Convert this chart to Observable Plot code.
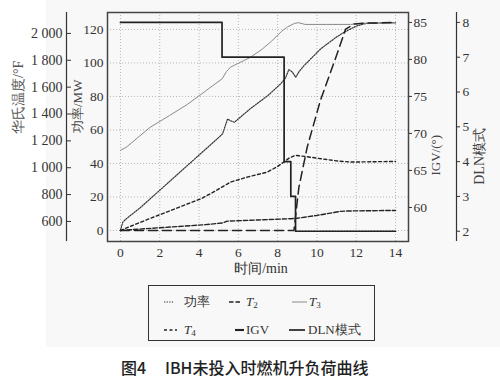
<!DOCTYPE html>
<html><head><meta charset="utf-8">
<script src="https://cdn.jsdelivr.net/npm/d3@7"></script>
<script src="https://cdn.jsdelivr.net/npm/@observablehq/plot@0.6"></script>
<style>
body{margin:0;background:#fff;}
#wrap{position:relative;width:500px;height:379px;overflow:hidden;font-family:"Liberation Serif","DejaVu Serif",serif;color:#333;}
#bg{position:absolute;left:46px;top:0;width:454px;height:347px;background:#f8f8f8;}
#chart{position:absolute;left:0;top:0;}
#chart svg, #chart svg text{font-family:"Liberation Serif","DejaVu Serif",serif !important;}
#legend{position:absolute;left:148px;top:285px;width:227px;height:56px;border:1px solid #333;box-sizing:border-box;}
.item{position:absolute;font-size:13px;line-height:14px;white-space:nowrap;color:#333;}
.item svg{position:absolute;top:0;}
sub{font-size:9px;vertical-align:-2px;}
#caption{position:absolute;top:355px;left:121px;font-family:"Noto Sans CJK SC","Noto Sans",sans-serif;font-size:16px;font-weight:500;color:#222;white-space:nowrap;}
</style></head><body>
<div id="wrap"><div id="bg"></div><div id="chart"></div><div id="legend"></div>
<div id="caption"><span>图4</span><span style="position:absolute;left:44px;">IBH未投入时燃机升负荷曲线</span></div></div>
<script>
// ---- data ----
const seriesNames = ["功率","T2","T3","T4","IGV","DLN模式"];
const xTicks = [0,2,4,6,8,10,12,14];
const mwTicks = [0,20,40,60,80,100,120];
const tempTicks = [600,800,1000,1200,1400,1600,1800,2000];
const igvTicks = [60,65,70,75,80,85];
const dlnTicks = [2,3,4,5,6,7,8];

const powerT  = [0,0.12,0.3,1,2,3,4,5,5.2,5.32,5.45,5.6,5.8,6.6,7.5,8.15,8.4,8.57,8.75,8.92,9.1,9.35,10.2,11,11.4,12,12.5,13,14];
const powerMW = [0,5,7,13.5,24,34.5,45,55.5,57.7,62,66.5,65.5,64.6,72.6,80.5,87.5,91,96,94.5,91.5,95,98.5,108.5,115.5,118.4,122,123.6,123.8,124];

const t2T = [0,2,4.33,5.2,5.43,7,8.66,9,10,11.2,11.6,14];
const t2F = [533,553,576,589,602,611,620,624,645,675,678,682];

const t3T = [0,0.3,1.5,2.5,3.4,4.3,5.18,5.4,5.6,6.6,7.2,7.7,8.2,8.5,8.85,9.05,9.4,10.5,11.7,12.4,14];
const t3F = [1129,1153,1300,1389,1471,1568,1663,1717,1749,1821,1881,1944,2015,2048,2074,2080,2067,2067,2067,2076,2077];

const t4T = [0,0.5,1.5,2.5,3.4,4.1,4.8,5.6,6.5,7.47,8.0,8.31,8.6,8.9,9.4,10.2,11,11.7,14];
const t4F = [533,563,622,678,730,769,824,893,932,967,1010,1042,1073,1092,1084,1067,1051,1042,1047];

const igvT = [0,8.83,9.08,9.5,10.18,10.86,11.46,11.9,12.5,14];
const igvDeg = [56.9,56.9,62.7,68.1,74.5,79.5,84.1,84.8,84.9,85];

const dlnT = [0,5.17,8.33,8.67,8.91,14];
const dlnMode = [8,7,4,3,2,2];

// ---- axis conversions onto the shared (MW) vertical scale ----
const K = 201/120;
const tempToY = T => (197 - (2000 - T) * (188/1400)) / K;
const yToTemp = y => 2000 - (197 - y*K) / (188/1400);
const igvToY = d => (208 - (85 - d) * 7.4) / K;
const yToIgv = y => 85 - (208 - y*K) / 7.4;
const dlnToY = m => (208 - (8 - m) * 34.8) / K;
const yToDln = y => 8 - (208 - y*K) / 34.8;

const xDom = [-0.66, 14.66], yDom = [-6.6, 130.1];
const zip = (ts, vs, f) => ts.map((t,i) => ({t, v: f(vs[i])}));
const styles = [
  {name: seriesNames[0], data: zip(powerT, powerMW, v=>v), stroke:"#333", w:1.2, dash:"1.3,1.3", len:10},
  {name: seriesNames[1], data: zip(t2T, t2F, tempToY), stroke:"#222", w:1.4, dash:"4.5,2", len:13},
  {name: seriesNames[2], data: zip(t3T, t3F, tempToY), stroke:"#8a8a8a", w:1, dash:null, len:15},
  {name: seriesNames[3], data: zip(t4T, t4F, tempToY), stroke:"#222", w:1.4, dash:"3,2.5", len:13},
  {name: seriesNames[4], data: zip(igvT, igvDeg, igvToY), stroke:"#222", w:1.5, dash:"9,5", len:9},
  {name: seriesNames[5], data: zip(dlnT, dlnMode, dlnToY), stroke:"#222", w:1.7, dash:null, len:16, step:true}
];

const fmtTemp = v => { const r = Math.round(v/100)*100; return r >= 1000 ? String(r).replace(/(\d)(\d{3})$/, "$1 $2") : String(r); };

const plot = Plot.plot({
  width: 500, height: 285,
  marginLeft: 107, marginRight: 92, marginTop: 12, marginBottom: 44,
  style: {fontFamily: '"Liberation Serif","DejaVu Serif",serif', fontSize: "13.5px", color: "#333", background: "transparent"},
  x: {domain: xDom},
  y: {domain: yDom},
  marks: [
    Plot.gridX(xTicks, {stroke: "#9a9a9a", strokeOpacity: 0.7, strokeDasharray: "1,2"}),
    Plot.gridY(mwTicks, {stroke: "#9a9a9a", strokeOpacity: 0.7, strokeDasharray: "1,2"}),
    ...styles.map(s => Plot.line(s.data, {x: "t", y: "v", stroke: s.stroke, strokeWidth: s.w, strokeDasharray: s.dash, curve: s.step ? "step-after" : "linear"})),
    Plot.frame({stroke: "#444", strokeWidth: 1.5}),
    Plot.axisX(xTicks, {tickSize: 0, tickPadding: 6, label: null}),
    Plot.axisY(mwTicks, {anchor: "left", tickSize: 0, tickPadding: 4, label: null}),
    // Fahrenheit axis (far left)
    Plot.ruleX([xDom[0]], {y1: yDom[0], y2: yDom[1], dx: -41, stroke: "#333", strokeWidth: 1.2}),
    Plot.axisY(tempTicks.map(tempToY), {anchor: "left", dx: -41, tickSize: 0, tickPadding: 4, fontSize: 14, tickFormat: y => fmtTemp(yToTemp(y)), label: null}),
    Plot.axisY(tempTicks.map(tempToY), {anchor: "right", dx: -342, tickSize: 4, tickFormat: () => "", label: null}),
    // IGV axis (frame right)
    Plot.axisY(igvTicks.map(igvToY), {anchor: "right", tickSize: 3, tickPadding: 2, tickFormat: y => String(Math.round(yToIgv(y))), label: null}),
    // DLN axis (far right)
    Plot.ruleX([xDom[1]], {y1: yDom[0], y2: yDom[1], dx: 48, stroke: "#333", strokeWidth: 1.2}),
    Plot.axisY(dlnTicks.map(dlnToY), {anchor: "right", dx: 48, tickSize: 3, tickPadding: 3, tickFormat: y => String(Math.round(yToDln(y))), label: null}),
    // axis titles
    Plot.text(["时间/min"], {frameAnchor: "bottom", dx: 3, dy: 31, fontSize: 14, fill: "#333"}),
    Plot.text(["功率/MW"], {frameAnchor: "left", rotate: -90, dx: -30, dy: 6, fontSize: 13, fill: "#444"}),
    Plot.text(["华氏温度/°F"], {frameAnchor: "left", rotate: -90, dx: -89, dy: 7, fontSize: 14, fill: "#555"}),
    Plot.text(["IGV/(°)"], {frameAnchor: "right", rotate: -90, dx: 27, dy: 8, fontSize: 13, fill: "#444"}),
    Plot.text(["DLN模式"], {frameAnchor: "right", rotate: -90, dx: 71, dy: 1, fontSize: 14, fill: "#444"})
  ]
});
document.getElementById("chart").appendChild(plot);

// ---- legend ----
const legendPos = [
  {x: 162, y: 301, tx: 183}, {x: 227, y: 301, tx: 245}, {x: 290, y: 301, tx: 308},
  {x: 162, y: 329, tx: 183}, {x: 233, y: 329, tx: 245}, {x: 287, y: 329, tx: 307}
];
const legend = document.getElementById("legend");
styles.forEach((s, i) => {
  const p = legendPos[i];
  const el = document.createElement("div");
  el.className = "item";
  el.style.left = (p.x - 148) + "px";
  el.style.top = (p.y - 285 - 8) + "px";
  const label = s.name.startsWith("T") && s.name.length === 2
    ? `<i>T</i><sub>${s.name[1]}</sub>` : s.name;
  el.innerHTML = `<svg width="${s.len+2}" height="16" style="left:0"><line x1="1" x2="${s.len+1}" y1="8" y2="8" stroke="${s.stroke}" stroke-width="${s.w+ (i===4?0.6:0)}" ${s.dash && i!==4 ? `stroke-dasharray="${s.dash}"` : ""}/></svg><span style="position:absolute;left:${p.tx-p.x}px;top:1px">${label}</span>`;
  legend.appendChild(el);
});
</script>
</body></html>
